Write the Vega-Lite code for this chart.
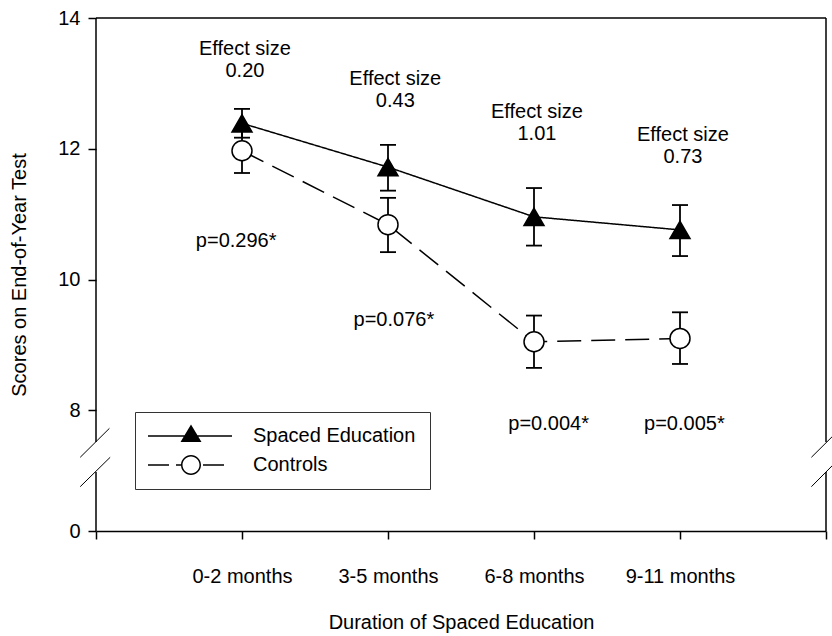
{
  "$schema": "https://vega.github.io/schema/vega-lite/v6.json",
  "width": 730,
  "height": 513,
  "autosize": "none",
  "padding": {"left": 96, "top": 18, "right": 6, "bottom": 105},
  "background": "white",
  "config": {
    "view": {"stroke": null},
    "font": "Liberation Sans",
    "text": {"font": "Liberation Sans"}
  },
  "datasets": {
    "scores": [
      {"period": "0-2 months", "idx": 1, "series": "Spaced Education", "mean": 12.39, "lo": 12.17, "hi": 12.61},
      {"period": "3-5 months", "idx": 2, "series": "Spaced Education", "mean": 11.72, "lo": 11.36, "hi": 12.06},
      {"period": "6-8 months", "idx": 3, "series": "Spaced Education", "mean": 10.96, "lo": 10.52, "hi": 11.40},
      {"period": "9-11 months", "idx": 4, "series": "Spaced Education", "mean": 10.76, "lo": 10.36, "hi": 11.14},
      {"period": "0-2 months", "idx": 1, "series": "Controls", "mean": 11.97, "lo": 11.63, "hi": 12.31},
      {"period": "3-5 months", "idx": 2, "series": "Controls", "mean": 10.84, "lo": 10.42, "hi": 11.25},
      {"period": "6-8 months", "idx": 3, "series": "Controls", "mean": 9.05, "lo": 8.65, "hi": 9.45},
      {"period": "9-11 months", "idx": 4, "series": "Controls", "mean": 9.10, "lo": 8.71, "hi": 9.50}
    ],
    "notes": [
      {"idx": 1.02, "score": 13.52, "label": "Effect size\n0.20"},
      {"idx": 2.05, "score": 13.06, "label": "Effect size\n0.43"},
      {"idx": 3.02, "score": 12.57, "label": "Effect size\n1.01"},
      {"idx": 4.02, "score": 12.21, "label": "Effect size\n0.73"},
      {"idx": 0.96, "score": 10.59, "label": "p=0.296*"},
      {"idx": 2.04, "score": 9.38, "label": "p=0.076*"},
      {"idx": 3.10, "score": 7.1, "label": "p=0.004*"},
      {"idx": 4.03, "score": 7.1, "label": "p=0.005*"}
    ]
  },
  "layer": [
    {
      "data": {"values": [{}]},
      "layer": [
        {"mark": {"type": "rule", "strokeWidth": 1.5, "color": "black"},
         "encoding": {"x": {"datum": 0, "type": "quantitative", "scale": {"domain": [0, 5]}}, "x2": {"datum": 5}, "y": {"datum": 14, "type": "quantitative", "scale": {"domain": [0, 8, 14], "range": [513, 392.4, 0]}}}},
        {"mark": {"type": "rule", "strokeWidth": 1.5, "color": "black"},
         "encoding": {"x": {"datum": 0, "type": "quantitative", "scale": {"domain": [0, 5]}}, "y": {"datum": 5.9, "type": "quantitative", "scale": {"domain": [0, 8, 14], "range": [513, 392.4, 0]}}, "y2": {"datum": 14}}},
        {"mark": {"type": "rule", "strokeWidth": 1.5, "color": "black"},
         "encoding": {"x": {"datum": 0, "type": "quantitative", "scale": {"domain": [0, 5]}}, "y": {"datum": 0, "type": "quantitative", "scale": {"domain": [0, 8, 14], "range": [513, 392.4, 0]}}, "y2": {"datum": 3.91}}},
        {"mark": {"type": "rule", "strokeWidth": 1.5, "color": "black"},
         "encoding": {"x": {"datum": 5, "type": "quantitative", "scale": {"domain": [0, 5]}}, "y": {"datum": 5.9, "type": "quantitative", "scale": {"domain": [0, 8, 14], "range": [513, 392.4, 0]}}, "y2": {"datum": 14}}},
        {"mark": {"type": "rule", "strokeWidth": 1.5, "color": "black"},
         "encoding": {"x": {"datum": 5, "type": "quantitative", "scale": {"domain": [0, 5]}}, "y": {"datum": 0, "type": "quantitative", "scale": {"domain": [0, 8, 14], "range": [513, 392.4, 0]}}, "y2": {"datum": 3.91}}},
        {"mark": {"type": "rule", "strokeWidth": 1, "color": "black"},
         "encoding": {"x": {"datum": -0.108, "type": "quantitative", "scale": {"domain": [0, 5]}}, "x2": {"datum": 0.092}, "y": {"datum": 4.89, "type": "quantitative", "scale": {"domain": [0, 8, 14], "range": [513, 392.4, 0]}}, "y2": {"datum": 6.81}}},
        {"mark": {"type": "rule", "strokeWidth": 1, "color": "black"},
         "encoding": {"x": {"datum": -0.108, "type": "quantitative", "scale": {"domain": [0, 5]}}, "x2": {"datum": 0.097}, "y": {"datum": 2.94, "type": "quantitative", "scale": {"domain": [0, 8, 14], "range": [513, 392.4, 0]}}, "y2": {"datum": 4.89}}},
        {"mark": {"type": "rule", "strokeWidth": 1, "color": "black"},
         "encoding": {"x": {"datum": 4.9, "type": "quantitative", "scale": {"domain": [0, 5]}}, "x2": {"datum": 5.1}, "y": {"datum": 4.89, "type": "quantitative", "scale": {"domain": [0, 8, 14], "range": [513, 392.4, 0]}}, "y2": {"datum": 6.81}}},
        {"mark": {"type": "rule", "strokeWidth": 1, "color": "black"},
         "encoding": {"x": {"datum": 4.9, "type": "quantitative", "scale": {"domain": [0, 5]}}, "x2": {"datum": 5.1}, "y": {"datum": 2.94, "type": "quantitative", "scale": {"domain": [0, 8, 14], "range": [513, 392.4, 0]}}, "y2": {"datum": 4.89}}}
      ]
    },
    {
      "data": {"name": "scores"},
      "layer": [
        {
          "mark": {"type": "line", "color": "black", "strokeWidth": 1.5},
          "encoding": {
            "x": {"field": "idx", "type": "quantitative", "scale": {"domain": [0, 5]},
              "axis": {"values": [0, 1, 2, 3, 4, 5], "labelExpr": "datum.value == 1 ? '0-2 months' : datum.value == 2 ? '3-5 months' : datum.value == 3 ? '6-8 months' : datum.value == 4 ? '9-11 months' : ''",
                "domain": true, "domainColor": "black", "domainWidth": 1.5, "grid": false, "ticks": true, "tickSize": 8, "tickWidth": 1.5, "tickColor": "black",
                "labelFontSize": 20, "labelColor": "black", "labelPadding": 27, "labelFlush": false, "labelOverlap": false, "labelBound": false,
                "title": "Duration of Spaced Education", "titleFontSize": 20, "titleFontWeight": "normal", "titleColor": "black", "titlePadding": 26}},
            "y": {"field": "mean", "type": "quantitative", "scale": {"domain": [0, 8, 14], "range": [513, 392.4, 0]},
              "axis": {"values": [0, 8, 10, 12, 14], "domain": false, "grid": false, "tickSize": 8, "tickWidth": 1.5, "tickColor": "black",
                "labelFontSize": 20, "labelColor": "black", "labelPadding": 8, "labelFlush": false, "labelBound": false,
                "title": "Scores on End-of-Year Test", "titleFontSize": 20, "titleFontWeight": "normal", "titleColor": "black", "titlePadding": 28}},
            "detail": {"field": "series"},
            "strokeDash": {"field": "series", "type": "nominal", "scale": {"domain": ["Controls", "Spaced Education"], "range": [[24, 10], [1, 0]]}, "legend": null}
          }
        },
        {
          "mark": {"type": "rule", "color": "black", "strokeWidth": 1.8},
          "encoding": {
            "x": {"field": "idx", "type": "quantitative", "scale": {"domain": [0, 5]}},
            "y": {"field": "lo", "type": "quantitative", "scale": {"domain": [0, 8, 14], "range": [513, 392.4, 0]}},
            "y2": {"field": "hi"}
          }
        },
        {
          "mark": {"type": "tick", "orient": "horizontal", "size": 16, "thickness": 1.8, "color": "black", "opacity": 1},
          "encoding": {
            "x": {"field": "idx", "type": "quantitative", "scale": {"domain": [0, 5]}},
            "y": {"field": "lo", "type": "quantitative", "scale": {"domain": [0, 8, 14], "range": [513, 392.4, 0]}}
          }
        },
        {
          "mark": {"type": "tick", "orient": "horizontal", "size": 16, "thickness": 1.8, "color": "black", "opacity": 1},
          "encoding": {
            "x": {"field": "idx", "type": "quantitative", "scale": {"domain": [0, 5]}},
            "y": {"field": "hi", "type": "quantitative", "scale": {"domain": [0, 8, 14], "range": [513, 392.4, 0]}}
          }
        },
        {
          "transform": [{"filter": "datum.series === 'Spaced Education'"}],
          "mark": {"type": "point", "shape": "triangle-up", "filled": true, "size": 400, "fill": "black", "stroke": "black", "strokeWidth": 1.5, "opacity": 1},
          "encoding": {
            "x": {"field": "idx", "type": "quantitative", "scale": {"domain": [0, 5]}},
            "y": {"field": "mean", "type": "quantitative", "scale": {"domain": [0, 8, 14], "range": [513, 392.4, 0]}}
          }
        },
        {
          "transform": [{"filter": "datum.series === 'Controls'"}],
          "mark": {"type": "point", "shape": "circle", "filled": true, "size": 400, "fill": "white", "stroke": "black", "strokeWidth": 1.5, "opacity": 1},
          "encoding": {
            "x": {"field": "idx", "type": "quantitative", "scale": {"domain": [0, 5]}},
            "y": {"field": "mean", "type": "quantitative", "scale": {"domain": [0, 8, 14], "range": [513, 392.4, 0]}}
          }
        },
        {
          "mark": {"type": "point", "filled": true, "color": "black", "size": 400, "opacity": 0},
          "encoding": {
            "x": {"field": "idx", "type": "quantitative", "scale": {"domain": [0, 5]}},
            "y": {"field": "mean", "type": "quantitative", "scale": {"domain": [0, 8, 14], "range": [513, 392.4, 0]}},
            "shape": {"field": "series", "type": "nominal",
              "scale": {"domain": ["Spaced Education", "Controls"], "range": [
                "M-1.1,-0.075H7.3V0.075H-1.1ZM3.2,-1.15L4.25,0.6L2.15,0.6Z",
                "M-1.1,-0.075H1V0.075H-1.1ZM1.7,-0.075H2.2V0.075H1.7ZM4.4,-0.075H6.5V0.075H4.4ZM4.2,0A1,1,0,1,1,2.2,0A1,1,0,1,1,4.2,0ZM4.05,0A0.85,0.85,0,1,0,2.35,0A0.85,0.85,0,1,0,4.05,0Z"
              ]},
              "legend": {"title": null, "orient": "none", "legendX": 39, "legendY": 394, "strokeColor": "#333333", "padding": 14,
                "labelFontSize": 20, "labelFont": "Liberation Sans", "labelColor": "black", "labelLimit": 400, "symbolSize": 400, "labelOffset": 84, "rowPadding": 9,
                "symbolOpacity": 1, "symbolFillColor": "black", "symbolStrokeColor": "black", "symbolStrokeWidth": 0}}
          }
        }
      ]
    },
    {
      "data": {"name": "notes"},
      "mark": {"type": "text", "fontSize": 20, "lineBreak": "\n", "lineHeight": 22, "align": "center", "baseline": "middle", "color": "black"},
      "encoding": {
        "x": {"field": "idx", "type": "quantitative", "scale": {"domain": [0, 5]}},
        "y": {"field": "score", "type": "quantitative", "scale": {"domain": [0, 8, 14], "range": [513, 392.4, 0]}},
        "text": {"field": "label"}
      }
    }
  ]
}
